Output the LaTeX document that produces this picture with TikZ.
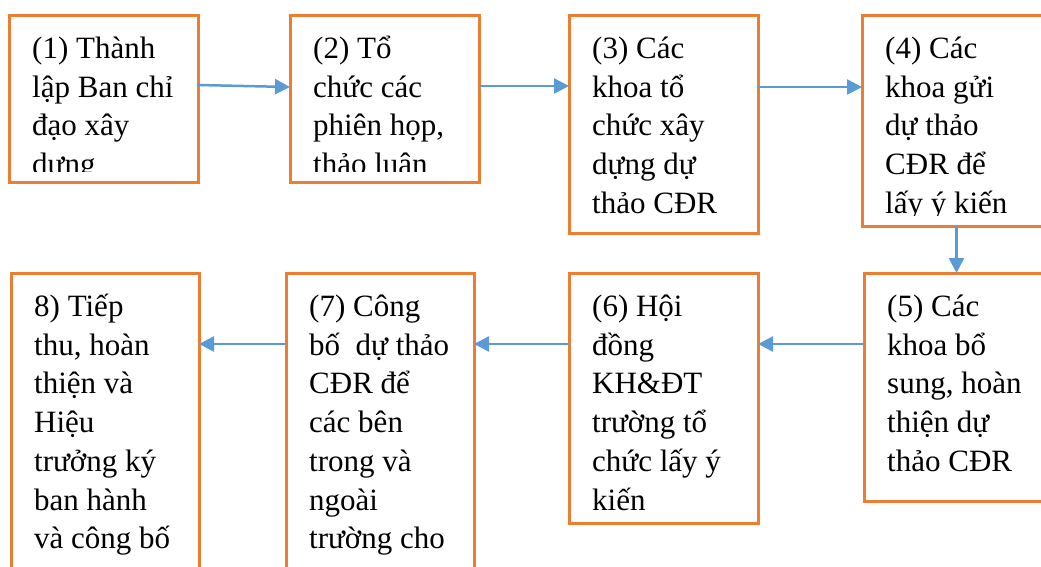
\documentclass[tikz,border=0pt]{standalone}
\usepackage{fontspec}
\setmainfont{Liberation Serif}
\usetikzlibrary{arrows.meta}

\definecolor{boxorange}{RGB}{237,125,49}
\definecolor{flowblue}{RGB}{91,155,213}

\tikzset{
  stepbox/.style={rectangle, draw=boxorange, line width=3pt, fill=white, outer sep=0pt, inner sep=0pt},
  steptext/.style={anchor=north west, inner sep=0pt, align=left, font=\fontsize{31}{38.75}\selectfont},
  flow/.style={draw=flowblue, line width=2.5pt, -{Triangle[length=15pt,width=15pt]}}
}

\begin{document}
\begin{tikzpicture}[x=1pt, y=-1pt]
	\useasboundingbox (0,0) rectangle (1041,566);

	% top row of steps
	\node[stepbox, minimum width=189pt, minimum height=167pt] (b1) at (103.5,98.5) {};
	\node[stepbox, minimum width=189pt, minimum height=167pt] (b2) at (384.5,98.5) {};
	\node[stepbox, minimum width=189pt, minimum height=218pt] (b3) at (663.5,124) {};
	\node[stepbox, minimum width=189pt, minimum height=211pt] (b4) at (956.5,120.5) {};

	% bottom row of steps
	\node[stepbox, minimum width=189pt, minimum height=228pt] (b5) at (958.5,387) {};
	\node[stepbox, minimum width=189pt, minimum height=250pt] (b6) at (663.5,398) {};
	\node[stepbox, minimum width=188pt, minimum height=367pt] (b7) at (380,456.5) {};
	\node[stepbox, minimum width=188pt, minimum height=367pt] (b8) at (105,456.5) {};

	%Texts, cut at the inner bottom margin of each box
	\begin{scope}
		\clip ([yshift=11pt]b1.south west) rectangle (b1.north east);
		\node[steptext] (t1) at ([xshift=23pt,yshift=-16pt]b1.north west) {\strut(1) Thành\\lập Ban chỉ\\đạo xây\\dựng};
	\end{scope}
	\begin{scope}
		\clip ([yshift=11pt]b2.south west) rectangle (b2.north east);
		\node[steptext] (t2) at ([xshift=23pt,yshift=-16pt]b2.north west) {\strut(2) Tổ\\chức các\\phiên họp,\\thảo luận};
	\end{scope}
	\begin{scope}
		\clip ([yshift=11pt]b3.south west) rectangle (b3.north east);
		\node[steptext] (t3) at ([xshift=23pt,yshift=-16pt]b3.north west) {\strut(3) Các\\khoa tổ\\chức xây\\dựng dự\\thảo CĐR};
	\end{scope}
	\begin{scope}
		\clip ([yshift=11pt]b4.south west) rectangle (b4.north east);
		\node[steptext] (t4) at ([xshift=23pt,yshift=-16pt]b4.north west) {\strut(4) Các\\khoa gửi\\dự thảo\\CĐR để\\lấy ý kiến};
	\end{scope}
	\begin{scope}
		\clip ([yshift=11pt]b5.south west) rectangle (b5.north east);
		\node[steptext] (t5) at ([xshift=23pt,yshift=-16pt]b5.north west) {\strut(5) Các\\khoa bổ\\sung, hoàn\\thiện dự\\thảo CĐR};
	\end{scope}
	\begin{scope}
		\clip ([yshift=11pt]b6.south west) rectangle (b6.north east);
		\node[steptext] (t6) at ([xshift=23pt,yshift=-16pt]b6.north west) {\strut(6) Hội\\đồng\\KH\&ĐT\\trường tổ\\chức lấy ý\\kiến};
	\end{scope}
	\begin{scope}
		\clip ([yshift=11pt]b7.south west) rectangle (b7.north east);
		\node[steptext] (t7) at ([xshift=23pt,yshift=-16pt]b7.north west) {\strut(7) Công\\bố~ dự thảo\\CĐR để\\các bên\\trong và\\ngoài\\trường cho};
	\end{scope}
	\begin{scope}
		\clip ([yshift=11pt]b8.south west) rectangle (b8.north east);
		\node[steptext] (t8) at ([xshift=23pt,yshift=-16pt]b8.north west) {\strut8) Tiếp\\thu, hoàn\\thiện và\\Hiệu\\trưởng ký\\ban hành\\và công bố};
	\end{scope}

	%Arrows between the steps
	\draw[flow] (b1.east |- 0,85) -- (b2.west |- 0,87);
	\draw[flow] (b2.east |- 0,86) -- (b3.west |- 0,86);
	\draw[flow] (b3.east |- 0,87) -- (b4.west |- 0,87);
	\draw[flow] (b4.south) -- (b4.south |- b5.north);
	\draw[flow] (b5.west |- 0,344) -- (b6.east |- 0,344);
	\draw[flow] (b6.west |- 0,344) -- (b7.east |- 0,344);
	\draw[flow] (b7.west |- 0,344) -- (b8.east |- 0,344);
\end{tikzpicture}
\end{document}
